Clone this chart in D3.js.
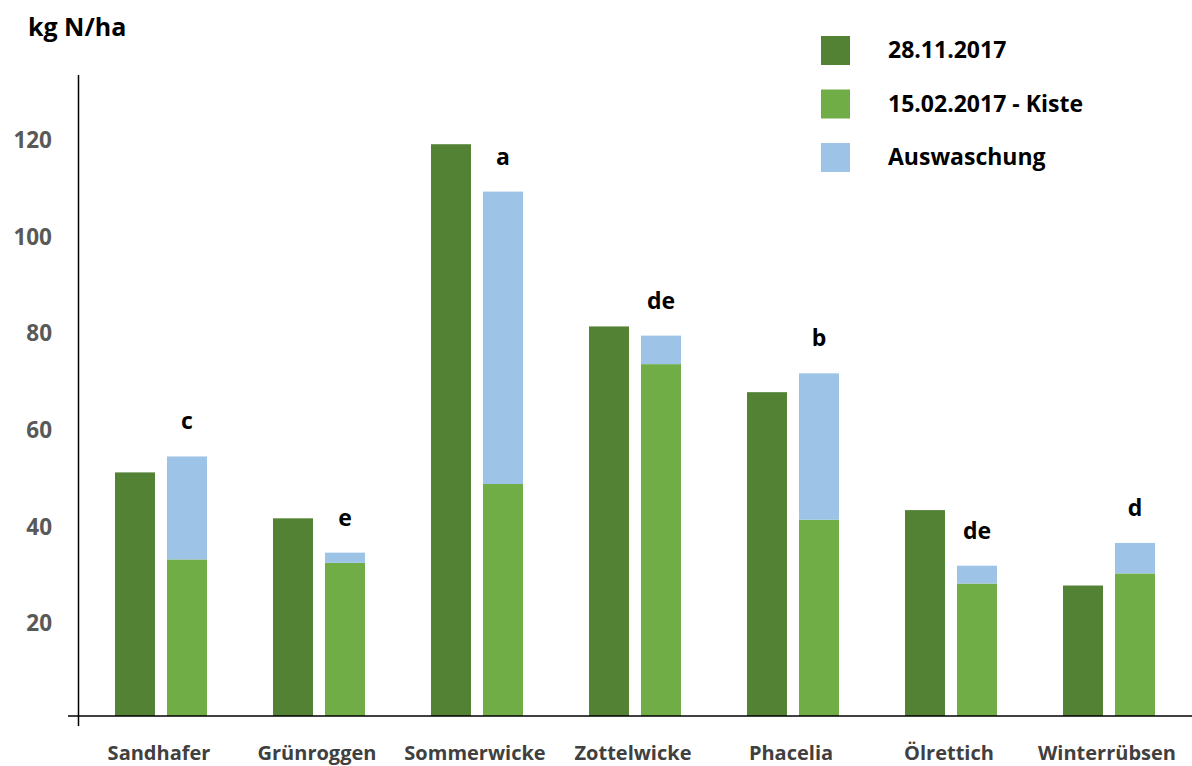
<!DOCTYPE html>
<html>
<head>
<meta charset="utf-8">
<script src="https://cdn.jsdelivr.net/npm/d3@7"></script>
<style>
  html, body { margin: 0; padding: 0; background: #fff; }
  svg { display: block; font-family: "Open Sans", Lato, sans-serif; }
</style>
</head>
<body>
<svg id="chart" width="1192" height="766"></svg>
<script>
// Nitrogen amounts per catch crop (kg N/ha)
const categories = ["Sandhafer", "Grünroggen", "Sommerwicke", "Zottelwicke", "Phacelia", "Ölrettich", "Winterrübsen"];
const nov2017 = [50.4, 40.9, 118.3, 80.6, 67.0, 42.6, 27.0];      // 28.11.2017
const feb2017Kiste = [32.4, 31.7, 48.0, 72.8, 40.6, 27.4, 29.5];  // 15.02.2017 - Kiste
const auswaschung = [21.3, 2.1, 60.5, 5.9, 30.3, 3.7, 6.3];       // Auswaschung (stacked on Kiste)
const letters = ["c", "e", "a", "de", "b", "de", "d"];
const yTicks = [20, 40, 60, 80, 100, 120];
const seriesNames = ["28.11.2017", "15.02.2017 - Kiste", "Auswaschung"];
const colors = ["#548235", "#70AD47", "#9DC3E6"];

const svg = d3.select("#chart");
const x0 = 78.5, yBase = 716;

const x = d3.scaleBand().domain(categories).range([82, 1188]).paddingInner(0).paddingOuter(0);
const y = d3.scaleLinear().domain([0, 120]).range([yBase, yBase - 580]);

const barW = 40, gap = 12;
const groupOffset = (x.bandwidth() - (2 * barW + gap)) / 2;

// first-date bars
svg.append("g").selectAll("rect")
  .data(categories)
  .join("rect")
  .attr("x", d => x(d) + groupOffset)
  .attr("y", (d, i) => y(nov2017[i]))
  .attr("width", barW)
  .attr("height", (d, i) => y(0) - y(nov2017[i]))
  .attr("fill", colors[0]);

// stacked second bars: Kiste + Auswaschung
const stackData = categories.map((c, i) => ({ cat: c, kiste: feb2017Kiste[i], aus: auswaschung[i] }));
const stacked = d3.stack().keys(["kiste", "aus"])(stackData);

svg.append("g").selectAll("g")
  .data(stacked)
  .join("g")
  .attr("fill", (d, i) => colors[i + 1])
  .selectAll("rect")
  .data(d => d)
  .join("rect")
  .attr("x", d => x(d.data.cat) + groupOffset + barW + gap)
  .attr("y", d => y(d[1]))
  .attr("width", barW)
  .attr("height", d => y(d[0]) - y(d[1]));

// significance letters
svg.append("g").selectAll("text")
  .data(stackData)
  .join("text")
  .attr("x", d => x(d.cat) + groupOffset + barW + gap + barW / 2)
  .attr("y", d => y(d.kiste + d.aus) - 27)
  .attr("text-anchor", "middle")
  .attr("font-size", 23)
  .attr("font-weight", 700)
  .attr("fill", "#000")
  .text((d, i) => letters[i]);

// axes lines
svg.append("line")
  .attr("x1", x0).attr("x2", x0)
  .attr("y1", 75).attr("y2", 726)
  .attr("stroke", "#000").attr("stroke-width", 1.5);
svg.append("line")
  .attr("x1", 68).attr("x2", 1192)
  .attr("y1", yBase).attr("y2", yBase)
  .attr("stroke", "#000").attr("stroke-width", 1.5);

// y tick labels
svg.append("g").selectAll("text")
  .data(yTicks)
  .join("text")
  .attr("x", 52)
  .attr("y", d => y(d) + 12)
  .attr("text-anchor", "end")
  .attr("font-size", 22.5)
  .attr("font-weight", 700)
  .attr("fill", "#595959")
  .text(d => d);

// category labels
svg.append("g").selectAll("text")
  .data(categories)
  .join("text")
  .attr("x", d => x(d) + x.bandwidth() / 2 - 2)
  .attr("y", 760)
  .attr("text-anchor", "middle")
  .attr("font-size", 20)
  .attr("font-weight", 700)
  .attr("fill", "#404040")
  .text(d => d);

// unit title
svg.append("text")
  .attr("x", 28).attr("y", 36)
  .attr("font-size", 25)
  .attr("font-weight", 700)
  .attr("fill", "#000")
  .text("kg N/ha");

// legend
const legend = svg.append("g").selectAll("g")
  .data(seriesNames)
  .join("g")
  .attr("transform", (d, i) => `translate(821, ${36 + i * 53.5})`);
legend.append("rect")
  .attr("width", 29).attr("height", 29)
  .attr("fill", (d, i) => colors[i]);
legend.append("text")
  .attr("x", 67).attr("y", 22)
  .attr("font-size", 23)
  .attr("font-weight", 700)
  .attr("fill", "#000")
  .text(d => d);
</script>
</body>
</html>
